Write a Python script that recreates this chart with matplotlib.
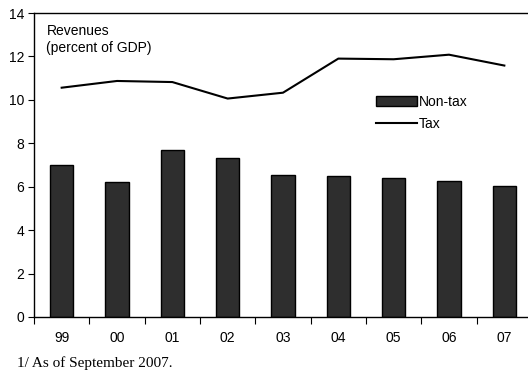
import matplotlib
matplotlib.use("Agg")
import matplotlib.pyplot as plt
import numpy as np

years = ["99", "00", "01", "02", "03", "04", "05", "06", "07"]
non_tax = [7.0, 6.23, 7.7, 7.32, 6.54, 6.51, 6.39, 6.26, 6.05]
tax = [10.56, 10.87, 10.82, 10.06, 10.33, 11.9, 11.87, 12.08, 11.58]
y_ticks = [0, 2, 4, 6, 8, 10, 12, 14]

plt.rcParams["font.family"] = ["Liberation Sans", "DejaVu Sans"]

fig = plt.figure(figsize=(5.28, 3.75), dpi=100)
ax = fig.add_axes([34 / 528, 58 / 375, 498 / 528, 304 / 375])

x = np.arange(len(years))
bars = ax.bar(x, non_tax, width=0.42, color="#2e2e2e", edgecolor="black",
              linewidth=1.0, label="Non-tax", zorder=2)
line, = ax.plot(x, tax, color="black", linewidth=1.5, label="Tax", zorder=3)

ax.set_xlim(-0.5, len(years) - 0.5)
ax.set_ylim(0, 14)
ax.set_yticks(y_ticks)
ax.set_yticklabels([str(v) for v in y_ticks], fontsize=10)

# category ticks sit on the boundaries between years
ax.set_xticks(np.arange(-0.5, len(years) - 0.4, 1.0))
ax.set_xticklabels([])
ax.set_xticks(x, minor=True)
ax.set_xticklabels(years, minor=True, fontsize=10)
ax.tick_params(axis="x", which="minor", length=0, pad=10)
ax.tick_params(axis="x", which="major", direction="out", length=5, width=0.8)
ax.tick_params(axis="y", direction="out", length=4, width=0.8, pad=3)

for side in ("left", "top", "bottom"):
    ax.spines[side].set_linewidth(1.0)
ax.spines["right"].set_visible(False)

ax.text(0.025, 0.965, "Revenues\n(percent of GDP)", transform=ax.transAxes,
        fontsize=10, va="top", ha="left", linespacing=1.35)

leg = ax.legend([bars, line], ["Non-tax", "Tax"], loc="upper left",
                bbox_to_anchor=(0.675, 0.75), frameon=False,
                fontsize=10, handlelength=3.0, handleheight=0.75,
                handletextpad=0.1, labelspacing=0.6, borderaxespad=0)

fig.text(17 / 528, 1 - 363 / 375, "1/ As of September 2007.",
         family=["Liberation Serif", "DejaVu Serif"], fontsize=11,
         va="center", ha="left")

fig.savefig("out.png", dpi=100)
